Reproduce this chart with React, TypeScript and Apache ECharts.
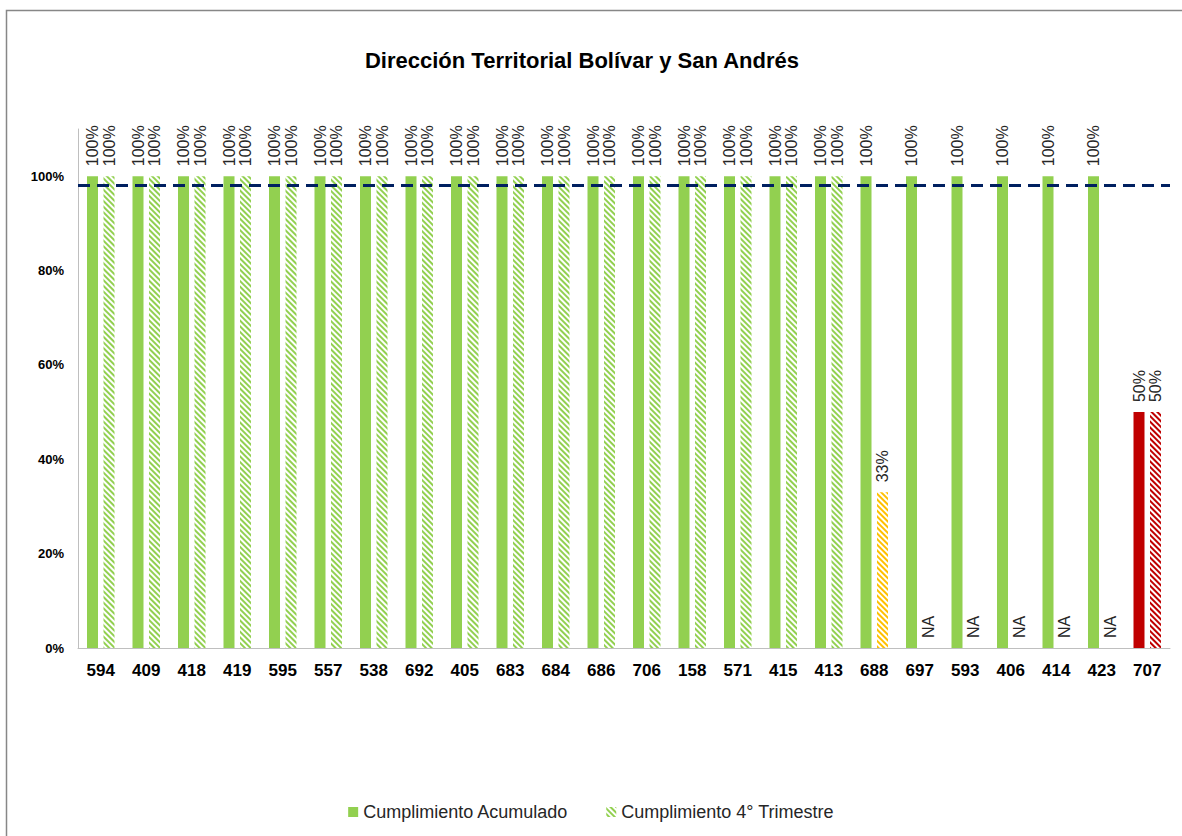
import React, { useEffect, useRef } from "react";
import * as echarts from "echarts";

const categories = ["594", "409", "418", "419", "595", "557", "538", "692", "405", "683", "684", "686", "706", "158", "571", "415", "413", "688", "697", "593", "406", "414", "423", "707"];
// Cumplimiento Acumulado
const acumulado = [1, 1, 1, 1, 1, 1, 1, 1, 1, 1, 1, 1, 1, 1, 1, 1, 1, 1, 1, 1, 1, 1, 1, 0.5];
const acumuladoStatus = ["alto", "alto", "alto", "alto", "alto", "alto", "alto", "alto", "alto", "alto", "alto", "alto", "alto", "alto", "alto", "alto", "alto", "alto", "alto", "alto", "alto", "alto", "alto", "bajo"];
// Cumplimiento 4° Trimestre (null = NA)
const trimestre = [1, 1, 1, 1, 1, 1, 1, 1, 1, 1, 1, 1, 1, 1, 1, 1, 1, 0.33, null, null, null, null, null, 0.5];
const trimestreStatus = ["alto", "alto", "alto", "alto", "alto", "alto", "alto", "alto", "alto", "alto", "alto", "alto", "alto", "alto", "alto", "alto", "alto", "medio", "na", "na", "na", "na", "na", "bajo"];
const meta = 0.98;
const yTicks = [0, 0.2, 0.4, 0.6, 0.8, 1.0];

const STATUS_COLORS: Record<string, string> = {
  alto: "#92D050",
  medio: "#FFC000",
  bajo: "#C00000",
  na: "#92D050",
};

const FONT = "'Liberation Sans', Arial, sans-serif";

function hatch(color: string) {
  return {
    symbol: "rect",
    symbolSize: 1,
    color,
    dashArrayX: [1, 0],
    dashArrayY: [2, 2],
    rotation: Math.PI / 4,
  };
}

export default function App() {
  const ref = useRef<HTMLDivElement>(null);
  useEffect(() => {
    if (!ref.current) return;
    const chart = echarts.init(ref.current, undefined, { renderer: "svg" });
    const pct = (v: number) => Math.round(v * 100) + "%";
    const labelBase = {
      show: true,
      position: "top",
      rotate: 90,
      align: "left",
      verticalAlign: "middle",
      distance: 10,
      fontFamily: FONT,
      fontSize: 16,
      color: "#262626",
    };
    const option: any = {
      animation: false,
      backgroundColor: "#ffffff",
      graphic: [
        {
          type: "rect",
          silent: true,
          z: -10,
          shape: { x: 6.5, y: 10.5, width: 1300, height: 1000 },
          style: { fill: "none", stroke: "#878787", lineWidth: 1.5 },
        },
        {
          type: "text",
          silent: true,
          x: 582,
          y: 60,
          style: {
            text: "Dirección Territorial Bolívar y San Andrés",
            fontFamily: FONT,
            fontSize: 22,
            fontWeight: "bold",
            fill: "#000000",
            align: "center",
            verticalAlign: "middle",
          },
        },
      ],
      legend: {
        bottom: 10,
        left: "center",
        itemWidth: 10,
        itemHeight: 10,
        itemGap: 38,
        textStyle: { fontFamily: FONT, fontSize: 18, color: "#262626" },
        data: [
          { name: "Cumplimiento Acumulado", icon: "rect" },
          { name: "Cumplimiento 4° Trimestre", icon: "rect" },
        ],
      },
      grid: { left: 78, right: 12, top: 129, bottom: 188, containLabel: false },
      xAxis: {
        type: "category",
        data: categories,
        axisLine: { show: true, lineStyle: { color: "#BFBFBF", width: 1 } },
        axisTick: { show: false },
        axisLabel: { fontFamily: FONT, fontSize: 17, fontWeight: "bold", color: "#000000", margin: 14 },
      },
      yAxis: {
        type: "value",
        min: 0,
        max: 1.1,
        interval: 0.2,
        splitLine: { show: false },
        axisLine: { show: true, lineStyle: { color: "#BFBFBF", width: 1 } },
        axisTick: { show: false },
        axisLabel: {
          showMaxLabel: false,
          margin: 14,
          fontFamily: FONT,
          fontSize: 13,
          fontWeight: "bold",
          color: "#000000",
          formatter: (v: number) => (yTicks.some((t) => Math.abs(t - v) < 1e-6) ? Math.round(v * 100) + "%" : ""),
        },
      },
      series: [
        {
          name: "Cumplimiento Acumulado",
          type: "bar",
          barWidth: 11,
          barGap: "50%",
          itemStyle: { color: STATUS_COLORS.alto },
          label: { ...labelBase, formatter: (p: any) => pct(p.value) },
          data: acumulado.map((v, i) => ({ value: v, itemStyle: { color: STATUS_COLORS[acumuladoStatus[i]] } })),
          markLine: {
            silent: true,
            symbol: "none",
            label: { show: false },
            lineStyle: { color: "#002060", width: 3, type: [12, 7] },
            data: [{ yAxis: meta }],
            z: 10,
          },
        },
        {
          name: "Cumplimiento 4° Trimestre",
          type: "bar",
          barWidth: 11,
          barGap: "50%",
          itemStyle: { color: "#ffffff", decal: hatch(STATUS_COLORS.alto) },
          label: {
            ...labelBase,
            formatter: (p: any) => (trimestre[p.dataIndex] === null ? "NA" : pct(p.value)),
          },
          data: trimestre.map((v, i) => ({
            value: v === null ? 0 : v,
            itemStyle: { color: "#ffffff", decal: hatch(STATUS_COLORS[trimestreStatus[i]]) },
          })),
        },
      ],
    };
    chart.setOption(option);
    return () => chart.dispose();
  }, []);
  return <div ref={ref} style={{ position: "absolute", left: 0, top: 0, width: 1182, height: 836 }} />;
}
